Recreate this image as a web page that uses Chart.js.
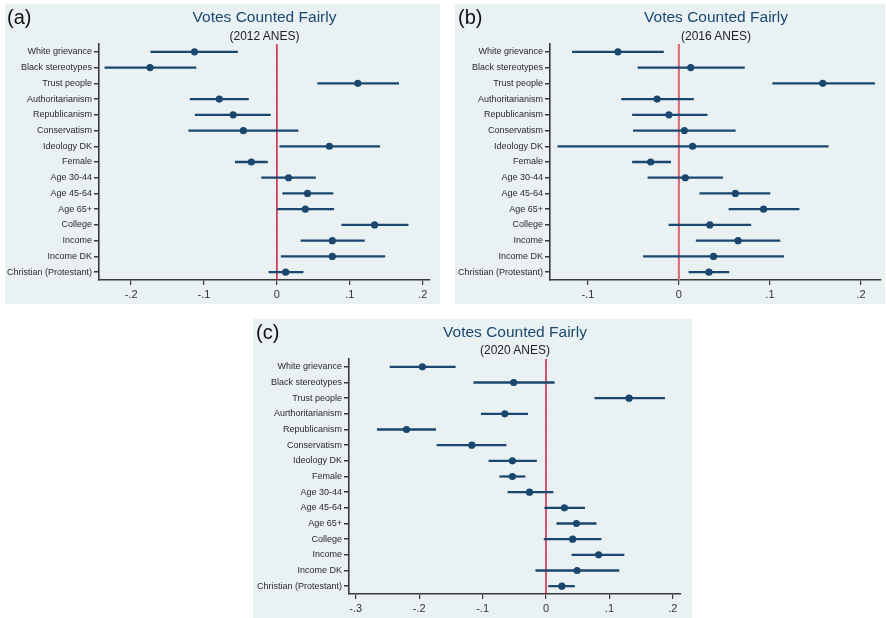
<!DOCTYPE html>
<html lang="en">
<head>
<meta charset="UTF-8">
<title>Votes Counted Fairly</title>
<script src="https://cdn.jsdelivr.net/npm/chart.js"></script>
<style>
  body { margin: 0; width: 886px; height: 618px; background: #fff; position: relative; overflow: hidden; font-family: "Liberation Sans", Arial, sans-serif; }
  .panel { position: absolute; background: #eaf1f3; }
  .panel canvas { position: absolute; left: 0; top: 0; }
  .tag { position: absolute; font-size: 20px; line-height: 24px; color: #111; }
  .ttl { position: absolute; text-align: center; font-size: 15.5px; line-height: 20px; color: #1a476f; }
  .sub { position: absolute; text-align: center; font-size: 12px; line-height: 14px; color: #222; }
</style>
</head>
<body>

<div class="panel" id="pa" style="left:5px;top:4px;width:435px;height:300px"><canvas id="ca" width="435" height="300"></canvas></div>
<div class="panel" id="pb" style="left:455px;top:4px;width:430px;height:300px"><canvas id="cb" width="430" height="300"></canvas></div>
<div class="panel" id="pc" style="left:253px;top:319px;width:439px;height:299px"><canvas id="cc" width="439" height="299"></canvas></div>

<div class="tag" style="left:7px;top:5px">(a)</div>
<div class="tag" style="left:458px;top:5px">(b)</div>
<div class="tag" style="left:256px;top:320px">(c)</div>

<div class="ttl" style="left:99px;width:331px;top:7px">Votes Counted Fairly</div>
<div class="sub" style="left:99px;width:331px;top:29px">(2012 ANES)</div>
<div class="ttl" style="left:550px;width:332px;top:7px">Votes Counted Fairly</div>
<div class="sub" style="left:550px;width:332px;top:29px">(2016 ANES)</div>
<div class="ttl" style="left:349px;width:332px;top:322px">Votes Counted Fairly</div>
<div class="sub" style="left:349px;width:332px;top:343px">(2020 ANES)</div>

<script>
// row labels (2020 panel keeps the original spelling)
const labelsAB = ["White grievance", "Black stereotypes", "Trust people", "Authoritarianism", "Republicanism",
  "Conservatism", "Ideology DK", "Female", "Age 30-44", "Age 45-64", "Age 65+", "College", "Income",
  "Income DK", "Christian (Protestant)"];
const labelsC = ["White grievance", "Black stereotypes", "Trust people", "Aurthoritarianism", "Republicanism",
  "Conservatism", "Ideology DK", "Female", "Age 30-44", "Age 45-64", "Age 65+", "College", "Income",
  "Income DK", "Christian (Protestant)"];

// coefficients and confidence bounds
const coef2012 = [-0.113, -0.174, 0.111, -0.079, -0.060, -0.046, 0.072, -0.035, 0.016, 0.042, 0.039, 0.134, 0.076, 0.076, 0.012];
const lo2012   = [-0.173, -0.236, 0.056, -0.119, -0.112, -0.121, 0.004, -0.057, -0.021, 0.008, 0.000, 0.089, 0.033, 0.006, -0.011];
const hi2012   = [-0.054, -0.111, 0.167, -0.039, -0.009, 0.029, 0.141, -0.013, 0.053, 0.077, 0.078, 0.180, 0.120, 0.148, 0.036];

const coef2016 = [-0.067, 0.013, 0.158, -0.024, -0.011, 0.006, 0.015, -0.031, 0.007, 0.062, 0.093, 0.034, 0.065, 0.038, 0.033];
const lo2016   = [-0.117, -0.045, 0.103, -0.063, -0.051, -0.050, -0.133, -0.051, -0.034, 0.023, 0.055, -0.011, 0.019, -0.039, 0.011];
const hi2016   = [-0.017, 0.072, 0.215, 0.016, 0.031, 0.062, 0.164, -0.009, 0.048, 0.100, 0.132, 0.079, 0.111, 0.115, 0.055];

const coef2020 = [-0.195, -0.051, 0.131, -0.065, -0.220, -0.117, -0.053, -0.053, -0.026, 0.029, 0.048, 0.042, 0.083, 0.049, 0.025];
const lo2020   = [-0.246, -0.114, 0.077, -0.102, -0.266, -0.172, -0.090, -0.073, -0.060, -0.002, 0.017, -0.003, 0.041, -0.016, 0.004];
const hi2020   = [-0.143, 0.013, 0.187, -0.029, -0.174, -0.063, -0.015, -0.033, 0.011, 0.061, 0.079, 0.087, 0.123, 0.115, 0.045];

// x ticks
const ticksA = [-0.2, -0.1, 0, 0.1, 0.2];
const tickLabelsA = ["-.2", "-.1", "0", ".1", ".2"];
const ticksB = [-0.1, 0, 0.1, 0.2];
const tickLabelsB = ["-.1", "0", ".1", ".2"];
const ticksC = [-0.3, -0.2, -0.1, 0, 0.1, 0.2];
const tickLabelsC = ["-.3", "-.2", "-.1", "0", ".1", ".2"];

const NAVY = "#1a476f";
const AXIS = "#3a3a3a";

// vertical reference line at x = 0, drawn under the markers
const zeroLine = {
  id: "zeroLine",
  beforeDatasetsDraw(chart, args, opts) {
    const { ctx, chartArea, scales } = chart;
    const px = scales.x.getPixelForValue(0);
    ctx.save();
    ctx.strokeStyle = opts.color;
    ctx.lineWidth = opts.width;
    ctx.beginPath();
    ctx.moveTo(px, chartArea.top);
    ctx.lineTo(px, chartArea.bottom);
    ctx.stroke();
    ctx.restore();
  }
};

function makePanel(id, labels, coef, lo, hi, xMin, xMax, ticks, tickLabels, g, zero) {
  new Chart(document.getElementById(id), {
    type: "bar",
    data: {
      labels: labels,
      datasets: [
        {
          label: "CI",
          data: lo.map((l, i) => [l, hi[i]]),
          backgroundColor: NAVY,
          borderWidth: 0,
          barThickness: 1.6,
          grouped: false
        },
        {
          type: "line",
          label: "coef",
          data: coef,
          showLine: false,
          pointRadius: 3.6,
          pointBackgroundColor: NAVY,
          pointBorderColor: NAVY,
          pointBorderWidth: 0
        }
      ]
    },
    options: {
      indexAxis: "y",
      responsive: false,
      animation: false,
      events: [],
      layout: { padding: { top: g.top, right: g.right, left: 0, bottom: 0 } },
      plugins: {
        legend: { display: false },
        tooltip: { enabled: false },
        zeroLine: zero
      },
      scales: {
        x: {
          type: "linear",
          min: xMin,
          max: xMax,
          afterBuildTicks: s => { s.ticks = ticks.map(v => ({ value: v })); },
          afterFit: s => { s.height = g.xh; },
          ticks: {
            callback: (v, i) => tickLabels[i],
            color: "#333",
            font: { family: "Liberation Sans", size: 11 },
            padding: 3,
            maxRotation: 0
          },
          grid: {
            drawOnChartArea: false,
            tickColor: AXIS,
            lineWidth: 1.2,
            tickLength: 5
          },
          border: { display: true, color: AXIS, width: 1.4 }
        },
        y: {
          type: "category",
          offset: true,
          afterFit: s => { s.width = g.yw; },
          ticks: {
            color: "#2a2a2a",
            font: { family: "Liberation Sans", size: 9 },
            padding: 2,
            autoSkip: false
          },
          grid: {
            offset: false,
            color: "#e6eef0",
            lineWidth: 1.5,
            tickColor: AXIS,
            tickLength: 5
          },
          border: { display: true, color: AXIS, width: 1.6 }
        }
      }
    },
    plugins: [zeroLine]
  });
}

makePanel("ca", labelsAB, coef2012, lo2012, hi2012, -0.244, 0.210, ticksA, tickLabelsA,
  { top: 40, right: 10, yw: 94, xh: 24 }, { color: "#c8102e", width: 1.4 });
makePanel("cb", labelsAB, coef2016, lo2016, hi2016, -0.1416, 0.222, ticksB, tickLabelsB,
  { top: 40, right: 3, yw: 95, xh: 24 }, { color: "#dd7080", width: 2.2 });
makePanel("cc", labelsC, coef2020, lo2020, hi2020, -0.3107, 0.2129, ticksC, tickLabelsC,
  { top: 40, right: 11, yw: 96, xh: 24 }, { color: "#c8102e", width: 1.4 });
</script>
</body>
</html>
